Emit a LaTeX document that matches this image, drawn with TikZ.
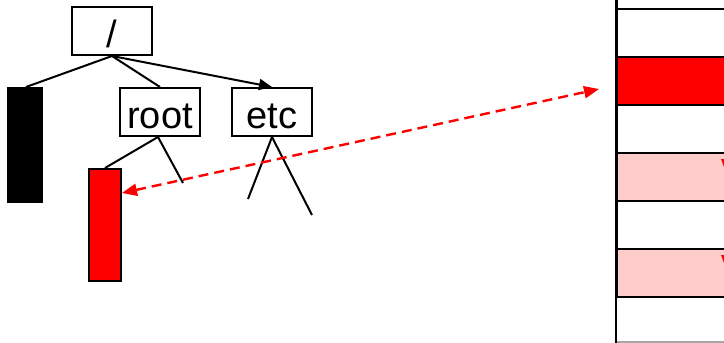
\documentclass[tikz,border=0pt]{standalone}
\usepackage{fontspec}
\setmainfont{Liberation Sans}
\usetikzlibrary{arrows.meta}
\definecolor{pinkcell}{HTML}{FFCCCC}
\tikzset{
  x=1pt, y=-1pt,
  dirbox/.style={draw, line width=2pt, minimum width=80pt, minimum height=48pt,
    inner sep=0pt, text height=40pt, text depth=8pt, font=\fontsize{38}{38}\selectfont},
  blk/.style={draw, line width=2pt, inner sep=0pt, anchor=north west},
  tline/.style={line width=2pt},
  cell/.style={draw, line width=2.2pt, inner sep=0pt, anchor=north west, minimum width=130pt, minimum height=48pt},
  link/.style={red, line width=2.4pt, dash pattern=on 10pt off 6pt, {Triangle[length=15pt,width=12pt]}-{Triangle[length=15pt,width=12pt]}}
}
\begin{document}
\begin{tikzpicture}
\useasboundingbox (0,0) rectangle (724,343);
% right column
\node[cell] (c0) at (616,-40) {};
\node[cell] (c1) at (616,8) {};
\node[cell, fill=red] (c2) at (616,56) {};
\node[cell] (c3) at (616,104) {};
\node[cell, fill=pinkcell] (c4) at (616,152) {};
\node[cell] (c5) at (616,200) {};
\node[cell, fill=pinkcell] (c6) at (616,248) {};
\draw[black!35, line width=1.5pt] (616,342) -- (740,342);
\draw[line width=2.2pt] (616,0) -- (616,343);
\fill[red] (721,159) -- (727,159) -- (724,167) -- cycle;
\fill[red] (721,255) -- (727,255) -- (724,263) -- cycle;
% tree
\node[dirbox] (slash) at (112,31) {/};
\node[dirbox] (root) at (160,112) {root};
\node[dirbox] (etc) at (272,112) {etc};
\node[blk, fill=black, minimum width=34pt, minimum height=114pt] (b1) at (7,87) {};
\node[blk, fill=red, minimum width=32pt, minimum height=112pt] (b2) at (88,168) {};
\coordinate (r1) at (183,183);
\coordinate (e1) at (248,199);
\coordinate (e2) at (312,215);
\coordinate (tgt) at (599,89);
\draw[tline] (slash.south) -- ([xshift=1pt]b1.north);
\draw[tline] (slash.south) -- (root.north);
\draw[tline, -{Triangle[length=13pt,width=11pt]}] (slash.south) -- (etc.north);
\draw[tline] ([xshift=-2pt]root.south) -- (b2.north);
\draw[tline] ([xshift=-2pt]root.south) -- (r1);
\draw[tline] (etc.south) -- (e1);
\draw[tline] (etc.south) -- (e2);
\draw[link] ([yshift=32pt]b2.east) -- (tgt);
\end{tikzpicture}
\end{document}
